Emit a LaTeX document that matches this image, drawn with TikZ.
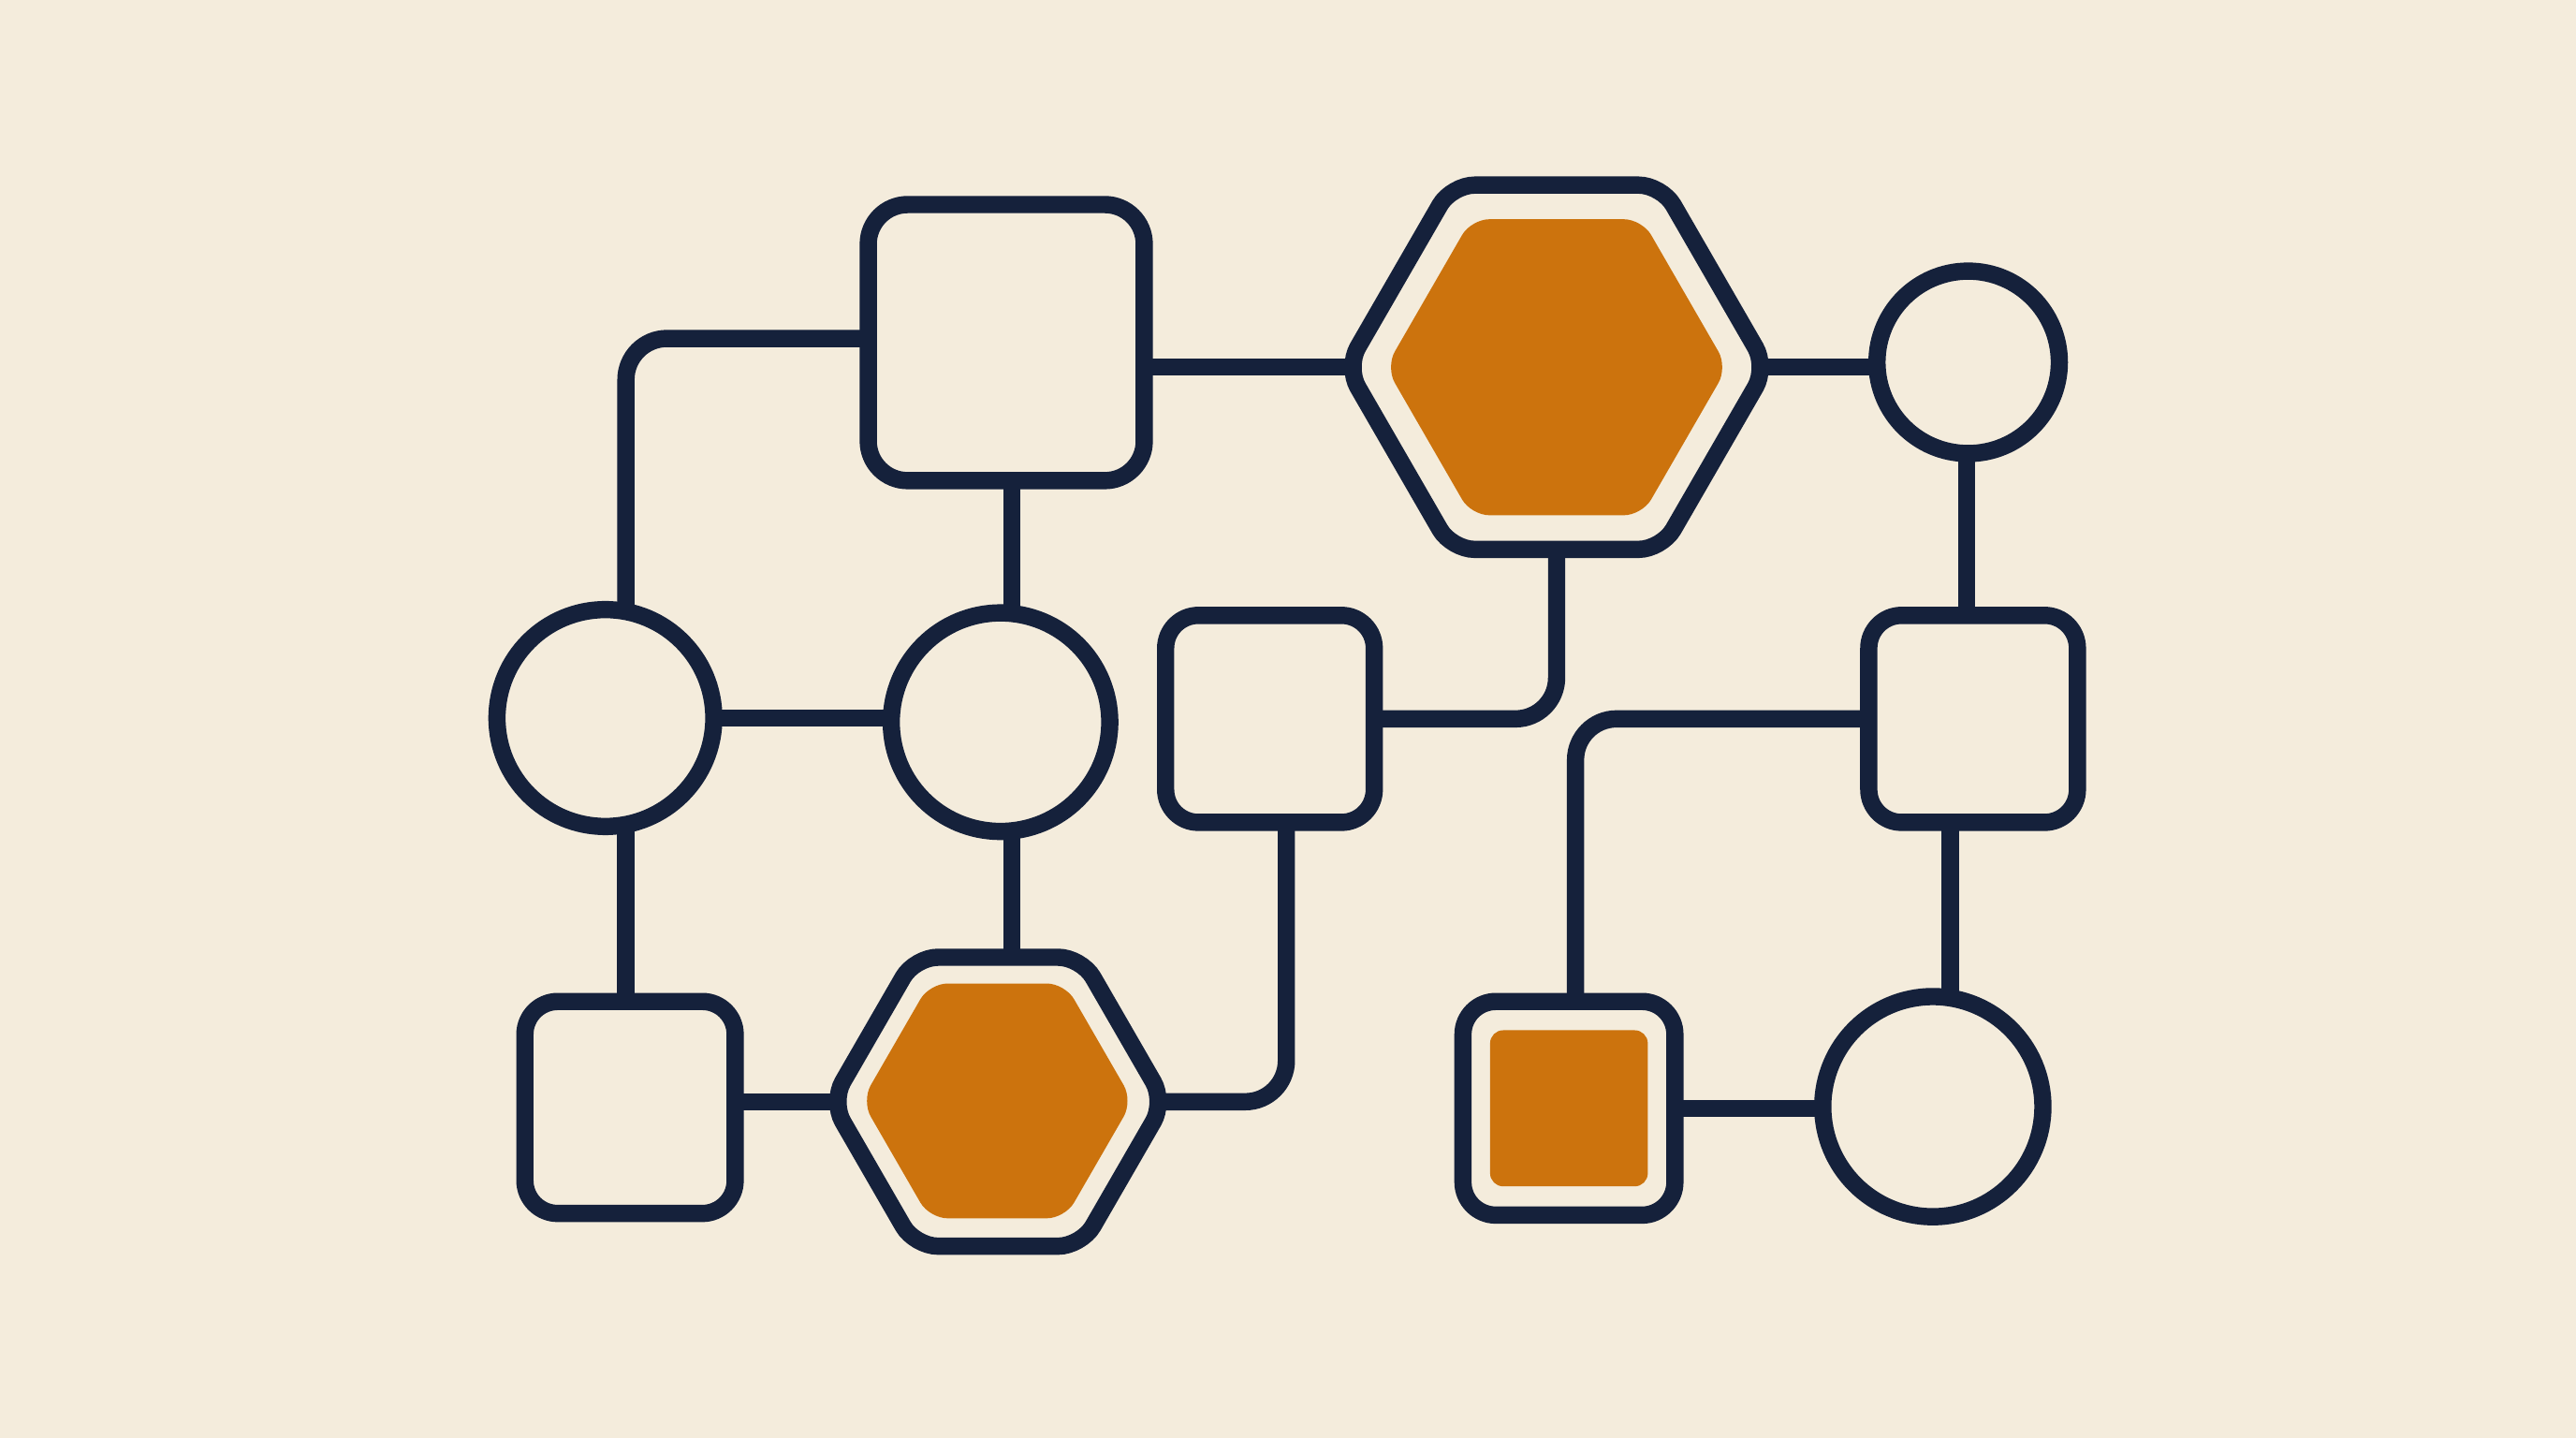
\documentclass[tikz,border=0pt]{standalone}
\usetikzlibrary{shapes.geometric,calc}
\definecolor{bgc}{HTML}{F4ECDC}
\definecolor{navy}{HTML}{15213B}
\definecolor{orng}{HTML}{CC730D}
\pgfdeclarelayer{bottom}
\pgfdeclarelayer{background}
\pgfsetlayers{bottom,background,main}
\begin{document}
\begin{tikzpicture}[x=1pt,y=-1pt,
  every node/.style={inner sep=0pt,outer sep=0pt},
  sqbox/.style={rectangle,draw=navy,fill=bgc,line width=10.5pt,rounded corners=#1},
  sqbox/.default=20pt,
  circbox/.style={circle,draw=navy,fill=bgc,line width=10.5pt},
  hexbox/.style={regular polygon,regular polygon sides=6,draw=navy,fill=bgc,line width=10.5pt,rounded corners=14pt},
  hexfill/.style={regular polygon,regular polygon sides=6,fill=orng,rounded corners=11pt},
  sqfill/.style={rectangle,fill=orng,rounded corners=8pt},
  conn/.style={draw=navy,line width=10.5pt}
]
\begin{pgfonlayer}{bottom}
\fill[bgc] (0,0) rectangle (1568,875);
\end{pgfonlayer}
\useasboundingbox (0,0) rectangle (1568,875);

% shapes
\node[sqbox=24pt,minimum width=168pt,minimum height=168pt] (S1) at (612.5,208.5) {};
\node[sqbox,minimum width=127pt,minimum height=126pt] (S2) at (773,437.5) {};
\node[sqbox,minimum width=127pt,minimum height=126pt] (S3) at (1201,437.5) {};
\node[sqbox,minimum width=128pt,minimum height=129pt] (S4) at (383.5,674) {};
\node[sqbox,minimum width=129pt,minimum height=130pt] (S5) at (955,674.5) {};
\node[sqfill,minimum width=96pt,minimum height=95pt] (S5i) at (955,674.5) {};

\node[circbox,minimum size=111pt] (C1) at (1198,220.5) {};
\node[circbox,minimum size=132pt] (C2) at (368.5,437) {};
\node[circbox,minimum size=133pt] (C3) at (609,439.5) {};
\node[circbox,minimum size=134pt] (C4) at (1176.5,673.5) {};

\node[hexbox,minimum size=256pt] (H1) at (947.5,223.5) {};
\node[hexfill,minimum size=208pt] (H1i) at (947.5,223.5) {};
\node[hexbox,minimum size=203pt] (H2) at (607.5,670.5) {};
\node[hexfill,minimum size=165pt] (H2i) at (607,670) {};

% connectors (behind shapes)
\begin{pgfonlayer}{background}
\draw[conn,rounded corners=25pt] ([yshift=2.5pt]S1.center) -| ([xshift=12.5pt]C2.center);
\draw[conn] ([xshift=3.5pt]S1.center) -- ([xshift=7pt]C3.center);
\draw[conn] (H1.center) -- (H1.center -| S1.center);
\draw[conn] (H1.center) -- (H1.center -| C1.center);
\draw[conn] ([xshift=-1pt]C1.center) -- ([xshift=-4pt]S3.center);
\draw[conn,rounded corners=25pt] (H1.center) |- (S2.center);
\draw[conn] (C2.center) -- (C2.center -| C3.center);
\draw[conn] ([xshift=12.5pt]C2.center) -- ([xshift=-2.5pt]S4.center);
\draw[conn] ([xshift=7pt]C3.center) -- ([xshift=8.5pt]H2.center);
\draw[conn] (H2.center) -- (H2.center -| S4.center);
\draw[conn,rounded corners=25pt] (H2.center) -| ([xshift=10pt]S2.center);
\draw[conn,rounded corners=25pt] (S3.center) -| ([xshift=4pt]S5.center);
\draw[conn] ([xshift=-14pt]S3.center) -- ([xshift=10.5pt]C4.center);
\draw[conn] (S5.center) -- (S5.center -| C4.center);
\end{pgfonlayer}
\end{tikzpicture}
\end{document}
